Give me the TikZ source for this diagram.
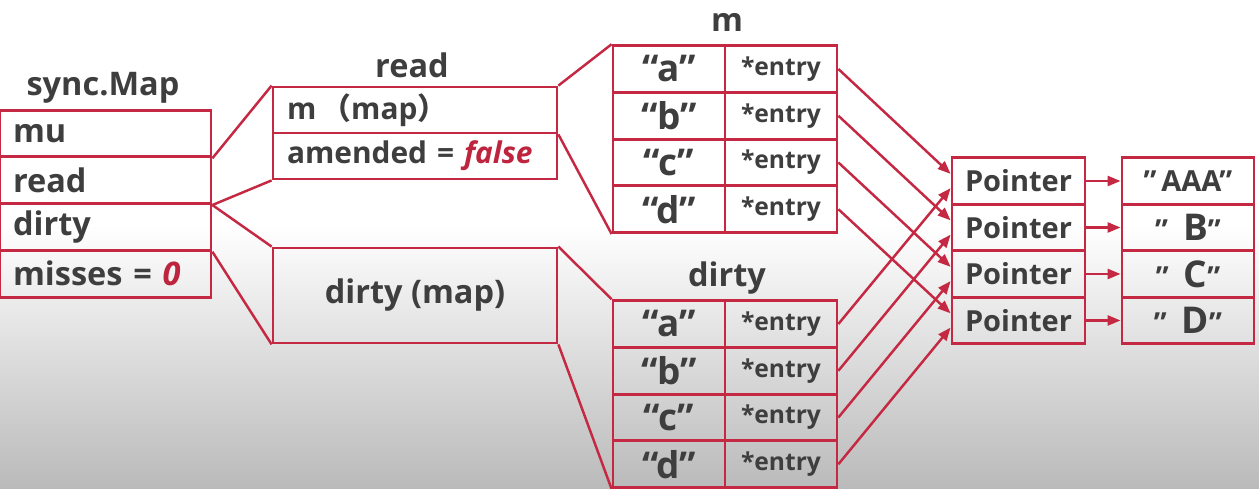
\documentclass[tikz,border=0pt]{standalone}
\usepackage{fontspec}
\setmainfont{Open Sans}
\newfontfamily\cjk{Noto Sans CJK SC}
\usepackage{xcolor}
\usepackage{tikz}
\usetikzlibrary{arrows.meta}
\definecolor{linered}{RGB}{196,40,66}
\definecolor{txtgray}{RGB}{62,62,62}
\definecolor{valred}{RGB}{190,36,62}

\begin{document}
\begin{tikzpicture}[
    x=0.02cm, y=-0.02cm,
    node distance=0.935cm,
    every node/.style={font=\bfseries\fontsize{18.5}{21}\selectfont, text=txtgray},
    title/.style={inner sep=0pt},
    field/.style={draw=linered, line width=1.6pt, minimum height=0.935cm, text width=3.7cm, inner xsep=0.26cm, inner ysep=0pt, align=left},
    rfield/.style={field, text width=5.12cm, inner xsep=0.28cm, minimum height=0.92cm, font=\bfseries\fontsize{17}{20}\selectfont},
    bigbox/.style={draw=linered, line width=1.6pt, minimum width=5.68cm, minimum height=1.9cm},
    key/.style={draw=linered, line width=1.6pt, minimum width=2.24cm, minimum height=0.935cm, inner sep=0pt, font=\bfseries\fontsize{21}{24}\selectfont},
    val/.style={key, font=\bfseries\fontsize{14}{17}\selectfont},
    pbox/.style={key, minimum width=2.66cm, minimum height=0.93cm, font=\bfseries\fontsize{16.5}{19}\selectfont},
    vbox/.style={pbox, minimum width=2.64cm},
    link/.style={linered, line width=1.4pt},
    arrow/.style={-{Triangle[length=0.26cm,width=0.2cm]}, linered, line width=1.4pt}
  ]
    % background
    \useasboundingbox (0,0) rectangle (1259,488);
    \fill[white] (0,0) rectangle (1259,225);
    \shade[top color=white, bottom color=black!27] (0,225) rectangle (1259,488);

    % sync.Map
    \node[title] (smaptitle) at (103,88) {sync.Map};
    \node[field] (mu) at (105.5,133.5) {mu};
    \node[field, below of=mu] (rd) {read};
    \node[field, below of=rd] (dt) {dirty};
    \node[field, below of=dt] (ms) {misses = {\color{valred}\itshape 0}};

    % read / dirty
    \node[title] (readtitle) at (412,65) {read};
    \node[rfield] (rm) at (415,110) {m\,{\cjk （}map{\cjk ）}};
    \node[rfield, below of=rm, node distance=0.92cm] (ra) {amended = {\color{valred}\itshape false}};
    \node[bigbox] (dm) at (415,295.5) {dirty (map)};

    % m
    \node[title] (mtitle) at (727,22) {m};
    \node[key] (mk1) at (669,69) {“a”};
    \node[key, below of=mk1] (mk2) {“b”};
    \node[key, below of=mk2] (mk3) {“c”};
    \node[key, below of=mk3] (mk4) {“d”};
    \node[val, right of=mk1, node distance=2.24cm] (mv1) {*entry};
    \node[val, right of=mk2, node distance=2.24cm] (mv2) {*entry};
    \node[val, right of=mk3, node distance=2.24cm] (mv3) {*entry};
    \node[val, right of=mk4, node distance=2.24cm] (mv4) {*entry};

    % dirty
    \node[title] (dtitle) at (727,278) {dirty};
    \node[key] (dk1) at (669,324) {“a”};
    \node[key, below of=dk1] (dk2) {“b”};
    \node[key, below of=dk2] (dk3) {“c”};
    \node[key, below of=dk3] (dk4) {“d”};
    \node[val, right of=dk1, node distance=2.24cm] (dv1) {*entry};
    \node[val, right of=dk2, node distance=2.24cm] (dv2) {*entry};
    \node[val, right of=dk3, node distance=2.24cm] (dv3) {*entry};
    \node[val, right of=dk4, node distance=2.24cm] (dv4) {*entry};

    % pointers and values
    \node[pbox] (p1) at (1018.5,181) {Pointer};
    \node[pbox, below of=p1, node distance=0.93cm] (p2) {Pointer};
    \node[pbox, below of=p2, node distance=0.93cm] (p3) {Pointer};
    \node[pbox, below of=p3, node distance=0.93cm] (p4) {Pointer};
    \node[vbox, right of=p1, node distance=3.39cm] (v1) {”\,AAA”};
    \node[vbox, right of=p2, node distance=3.39cm] (v2) {”\ \ {\fontsize{21}{24}\selectfont B}”};
    \node[vbox, right of=p3, node distance=3.39cm] (v3) {”\ \ {\fontsize{21}{24}\selectfont C}”};
    \node[vbox, right of=p4, node distance=3.39cm] (v4) {”\ \ {\fontsize{21}{24}\selectfont D}”};

    % links
    \draw[link] (mu.south east) -- (rm.north west);
    \draw[link] (rd.south east) -- (ra.south west);
    \draw[link] (rd.south east) -- (dm.north west);
    \draw[link] (dt.south east) -- (dm.south west);
    \draw[link] (rm.north east) -- (mk1.north west);
    \draw[link] (rm.south east) -- (mk4.south west);
    \draw[link] (dm.north east) -- (dk1.north west);
    \draw[link] (dm.south east) -- (dk4.south west);

    % entries to pointers
    \draw[arrow] (mv1.east) -- (p1.174);
    \draw[arrow] (mv2.east) -- (p2.174);
    \draw[arrow] (mv3.east) -- (p3.174);
    \draw[arrow] (mv4.east) -- (p4.174);
    \draw[arrow] (dv1.east) -- (p1.186);
    \draw[arrow] (dv2.east) -- (p2.186);
    \draw[arrow] (dv3.east) -- (p3.186);
    \draw[arrow] (dv4.east) -- (p4.186);
    \draw[arrow] (p1) -- (v1);
    \draw[arrow] (p2) -- (v2);
    \draw[arrow] (p3) -- (v3);
    \draw[arrow] (p4) -- (v4);
  \end{tikzpicture}
\end{document}
